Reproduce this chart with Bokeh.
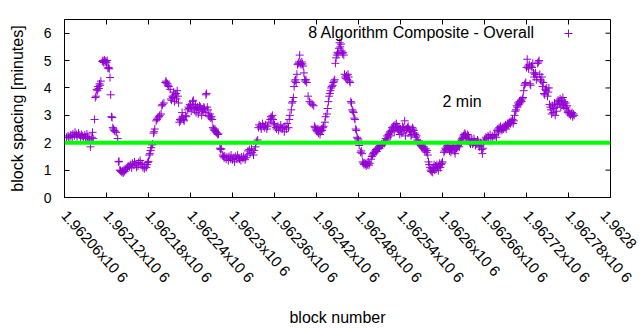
import math
from bokeh.plotting import figure
from bokeh.models import (ColumnDataSource, Span, Label, Legend, LegendItem,
                          FixedTicker, Range1d)
from bokeh.embed import file_html
from bokeh.resources import INLINE

# ---------------- data ----------------
BASE_BLOCK = 1962060

block_offset = [
    3, 5, 6, 8, 9, 11, 12, 14, 15, 17,
    18, 20, 21, 23, 24, 26, 27, 29, 30, 32,
    33, 35, 36, 37, 39, 40, 41, 43, 44, 45,
    46, 47, 48, 49, 50, 51, 52, 54, 55, 56,
    57, 58, 59, 60, 61, 62, 63, 64, 65, 66,
    67, 68, 69, 70, 71, 72, 74, 76, 77, 78,
    79, 80, 81, 82, 83, 84, 85, 86, 87, 88,
    90, 91, 93, 94, 96, 97, 99, 100, 102, 103,
    105, 106, 108, 109, 111, 112, 114, 115, 117, 118,
    119, 120, 121, 122, 123, 124, 125, 126, 127, 128,
    129, 131, 132, 133, 135, 136, 138, 139, 140, 142,
    144, 145, 146, 147, 148, 149, 151, 152, 153, 154,
    155, 156, 157, 158, 159, 160, 161, 162, 163, 164,
    165, 166, 167, 168, 169, 170, 171, 173, 174, 176,
    177, 178, 179, 180, 181, 182, 183, 184, 185, 186,
    187, 188, 189, 190, 191, 192, 193, 194, 195, 196,
    197, 198, 199, 200, 201, 202, 203, 204, 205, 206,
    207, 208, 209, 210, 211, 212, 213, 214, 215, 216,
    217, 218, 219, 220, 222, 223, 224, 226, 227, 228,
    229, 231, 232, 234, 235, 237, 238, 240, 241, 243,
    244, 246, 247, 249, 250, 252, 253, 255, 256, 258,
    259, 261, 262, 264, 265, 267, 268, 270, 271, 273,
    274, 276, 277, 278, 280, 281, 283, 284, 286, 287,
    289, 290, 292, 294, 295, 296, 297, 298, 299, 300,
    302, 303, 305, 306, 308, 309, 311, 312, 314, 315,
    317, 318, 320, 321, 322, 324, 325, 326, 327, 328,
    329, 330, 331, 332, 333, 334, 335, 336, 337, 338,
    339, 340, 341, 342, 343, 344, 345, 346, 348, 350,
    352, 354, 356, 357, 358, 359, 360, 361, 362, 363,
    364, 365, 366, 367, 368, 369, 370, 372, 373, 375,
    376, 377, 378, 379, 380, 381, 382, 383, 384, 385,
    386, 387, 388, 389, 390, 391, 392, 393, 394, 395,
    396, 397, 398, 399, 400, 401, 402, 403, 404, 405,
    406, 407, 408, 409, 410, 411, 412, 413, 414, 415,
    416, 417, 418, 419, 420, 421, 423, 424, 425, 426,
    427, 428, 429, 430, 431, 432, 433, 434, 435, 436,
    438, 439, 440, 441, 442, 443, 444, 445, 446, 447,
    448, 449, 450, 451, 452, 453, 454, 456, 457, 458,
    459, 460, 461, 462, 463, 464, 465, 466, 467, 468,
    469, 470, 471, 472, 473, 474, 475, 476, 477, 478,
    479, 480, 481, 482, 483, 484, 485, 486, 487, 488,
    489, 490, 491, 492, 493, 494, 495, 496, 497, 498,
    499, 500, 501, 502, 503, 504, 505, 506, 507, 508,
    509, 510, 511, 512, 513, 514, 515, 516, 517, 518,
    519, 520, 521, 522, 523, 524, 525, 526, 527, 528,
    529, 530, 531, 532, 533, 534, 535, 536, 537, 538,
    539, 540, 542, 543, 544, 545, 546, 547, 548, 549,
    550, 551, 552, 553, 554, 555, 556, 557, 558, 559,
    560, 561, 562, 563, 564, 565, 566, 567, 568, 569,
    570, 571, 572, 573, 574, 575, 576, 577, 578, 579,
    580, 581, 582, 583, 584, 585, 586, 587, 588, 589,
    590, 591, 592, 593, 594, 595, 596, 597, 598, 599,
    600, 602, 603, 605, 606, 608, 609, 611, 612, 614,
    615, 617, 618, 619, 620, 621, 622, 623, 624, 625,
    626, 627, 628, 629, 630, 631, 632, 633, 634, 635,
    636, 637, 638, 639, 640, 641, 642, 643, 644, 645,
    646, 647, 648, 649, 650, 651, 652, 653, 654, 655,
    656, 657, 658, 659, 660, 661, 662, 663, 664, 665,
    666, 667, 668, 669, 670, 671, 672, 673, 674, 675,
    676, 677, 678, 679, 680, 681, 682, 683, 684, 685,
    686, 687, 688, 689, 690, 691, 692, 693, 694, 695,
    696, 697, 698, 699, 700, 701, 702, 703, 704, 705,
    706, 707, 708, 709, 710, 711, 712, 713, 714, 715,
    716, 717, 718, 719, 720, 721, 722, 723, 724, 725,
    726, 727, 728,
]

spacing_minutes = [
    2.2, 2.25, 2.18, 2.22, 2.28, 2.2, 2.32, 2.25, 2.38, 2.3,
    2.22, 2.35, 2.28, 2.2, 2.3, 2.25, 2.15, 2.28, 2.2, 2.32,
    2.22, 2.15, 2.1, 1.85, 2.2, 2.38, 2.15, 2.85, 3.65, 3.7,
    3.95, 3.9, 4.05, 3.98, 4.15, 4.1, 4.25, 4.97, 5.0, 4.93,
    5.02, 4.95, 4.98, 4.92, 5.0, 4.72, 4.75, 4.7, 4.38, 3.75,
    2.95, 2.92, 2.55, 2.5, 2.45, 2.42, 2.38, 2.15, 1.3, 1.32,
    1.0, 0.98, 0.95, 0.92, 0.97, 0.9, 1.0, 0.95, 1.02, 1.05,
    1.1, 1.15, 1.12, 1.2, 1.08, 1.25, 1.18, 1.3, 1.22, 1.1,
    1.15, 1.28, 1.35, 1.25, 1.2, 1.1, 1.05, 1.12, 1.1, 1.2,
    1.28, 1.32, 1.55, 1.6, 1.72, 1.82, 1.92, 1.95, 2.35, 2.4,
    2.5, 2.8, 2.85, 2.9, 2.95, 3.0, 3.05, 3.35, 3.4, 3.45,
    4.2, 4.25, 4.18, 4.15, 4.1, 4.05, 3.95, 3.6, 3.55, 3.7,
    3.65, 3.85, 3.5, 3.75, 3.8, 3.6, 3.9, 3.7, 3.45, 2.75,
    2.85, 2.8, 2.9, 3.1, 2.95, 2.85, 2.8, 3.0, 2.95, 3.2,
    3.3, 3.25, 3.4, 3.35, 3.15, 3.3, 3.5, 3.55, 3.3, 3.2,
    3.4, 3.1, 3.25, 3.3, 3.05, 3.2, 3.35, 3.3, 3.25, 3.0,
    3.2, 3.15, 3.3, 3.25, 3.1, 3.75, 3.8, 3.3, 3.2, 3.0,
    2.95, 3.05, 2.9, 2.95, 2.85, 2.55, 2.5, 2.45, 2.5, 2.4,
    2.38, 2.35, 2.3, 2.32, 1.8, 1.75, 1.78, 1.55, 1.5, 1.45,
    1.52, 1.4, 1.48, 1.35, 1.5, 1.42, 1.55, 1.38, 1.45, 1.3,
    1.5, 1.42, 1.55, 1.45, 1.4, 1.35, 1.48, 1.42, 1.5, 1.38,
    1.45, 1.55, 1.7, 1.75, 1.6, 1.78, 1.65, 1.55, 1.72, 1.85,
    2.05, 2.1, 2.55, 2.65, 2.6, 2.5, 2.7, 2.6, 2.55, 2.65,
    2.5, 2.6, 2.75, 2.85, 2.95, 2.9, 3.0, 2.85, 2.7, 2.65,
    2.55, 2.5, 2.6, 2.45, 2.55, 2.65, 2.5, 2.55, 2.4, 2.6,
    2.5, 2.7, 2.55, 2.85, 3.0, 3.2, 3.45, 3.5, 3.65, 4.05,
    4.25, 4.3, 4.2, 4.5, 4.85, 4.9, 4.95, 5.2, 4.9, 4.85,
    4.95, 4.88, 4.8, 4.55, 4.3, 4.25, 4.3, 4.2, 3.7, 3.5,
    3.45, 3.4, 3.35, 2.6, 2.55, 2.5, 2.45, 2.4, 2.5, 2.35,
    2.45, 2.3, 2.4, 2.5, 2.45, 2.55, 2.6, 2.75, 2.95, 3.05,
    3.25, 3.5, 3.7, 3.8, 3.9, 4.0, 4.05, 4.1, 4.2, 4.25,
    4.3, 4.9, 5.1, 5.2, 5.3, 5.25, 5.45, 5.65, 5.5, 5.6,
    5.35, 5.25, 5.3, 5.2, 4.5, 4.4, 4.35, 4.45, 4.3, 4.5,
    4.4, 4.25, 4.2, 3.5, 3.45, 3.2, 3.15, 3.1, 2.9, 2.85,
    2.5, 2.45, 2.2, 2.15, 2.1, 1.9, 1.65, 1.7, 1.6, 1.3,
    1.25, 1.2, 1.27, 1.22, 1.15, 1.25, 1.2, 1.3, 1.18, 1.25,
    1.4, 1.5, 1.55, 1.6, 1.65, 1.62, 1.7, 1.75, 1.68, 1.8,
    1.78, 1.85, 1.8, 1.9, 1.88, 1.95, 1.92, 2.0, 1.98, 2.02,
    2.15, 2.1, 2.25, 2.2, 2.3, 2.35, 2.4, 2.25, 2.45, 2.55,
    2.5, 2.6, 2.4, 2.65, 2.55, 2.7, 2.6, 2.5, 2.45, 2.55,
    2.3, 2.5, 2.4, 2.35, 2.6, 2.55, 2.45, 2.8, 2.25, 2.5,
    2.45, 2.55, 2.6, 2.5, 2.45, 2.4, 2.25, 2.3, 2.55, 2.5,
    2.45, 2.35, 2.3, 2.2, 2.25, 2.1, 2.05, 2.0, 1.95, 2.0,
    1.9, 1.85, 1.95, 1.8, 1.85, 1.75, 1.7, 1.78, 1.65, 1.72,
    1.55, 1.3, 1.2, 1.1, 1.0, 0.95, 1.05, 0.92, 1.1, 1.2,
    1.0, 1.15, 1.05, 1.2, 1.1, 0.98, 1.15, 1.25, 1.1, 1.2,
    1.25, 1.3, 1.65, 1.7, 1.8, 1.75, 1.85, 1.9, 1.78, 1.85,
    1.7, 1.8, 1.65, 1.75, 1.82, 1.9, 1.85, 1.7, 1.6, 1.75,
    1.8, 1.85, 1.9, 1.95, 1.85, 2.0, 2.05, 2.1, 2.15, 2.2,
    2.25, 2.3, 2.35, 2.28, 2.2, 2.15, 2.3, 2.25, 2.1, 2.0,
    1.95, 2.05, 2.1, 1.95, 2.0, 2.15, 2.05, 1.9, 2.0, 1.95,
    2.1, 2.05, 1.9, 1.85, 2.0, 1.95, 1.75, 1.6, 1.8, 2.0,
    2.1, 2.2, 2.15, 2.25, 2.2, 2.3, 2.15, 2.25, 2.2, 2.3,
    2.25, 2.2, 2.45, 2.5, 2.4, 2.55, 2.45, 2.6, 2.5, 2.45,
    2.55, 2.5, 2.6, 2.55, 2.65, 2.5, 2.6, 2.7, 2.65, 2.7,
    2.75, 2.7, 2.8, 2.75, 2.85, 2.7, 2.8, 3.0, 3.15, 3.2,
    3.35, 3.3, 3.45, 3.4, 3.5, 3.45, 3.55, 3.5, 3.6, 3.65,
    3.9, 4.1, 4.15, 4.2, 4.75, 5.05, 4.8, 4.7, 4.85, 4.15,
    4.1, 4.8, 4.75, 4.9, 4.55, 4.4, 4.5, 4.55, 4.3, 4.4,
    4.9, 4.95, 5.0, 4.5, 4.3, 4.25, 4.4, 4.05, 4.2, 3.8,
    3.75, 3.95, 3.9, 4.0, 3.7, 3.85, 4.0, 3.4, 3.3, 3.2,
    3.05, 3.35, 3.1, 3.25, 3.45, 3.0, 3.3, 3.15, 3.4, 3.55,
    3.5, 3.45, 3.6, 3.3, 3.55, 3.4, 3.65, 3.35, 3.5, 3.25,
    3.45, 3.3, 3.35, 3.1, 3.15, 3.05, 3.1, 3.0, 3.05, 3.1,
    2.95, 3.05, 3.0,
]

x_ticks = [1962060, 1962120, 1962180, 1962240, 1962300, 1962360, 1962420,
           1962480, 1962540, 1962600, 1962660, 1962720, 1962780, 1962840]
# the last label runs off the page in the reference; only "1.9628" is visible there
x_tick_labels = ["1.96206x10 6", "1.96212x10 6", "1.96218x10 6", "1.96224x10 6",
                 "1.9623x10 6", "1.96236x10 6", "1.96242x10 6", "1.96248x10 6",
                 "1.96254x10 6", "1.9626x10 6", "1.96266x10 6", "1.96272x10 6",
                 "1.96278x10 6", "1.9628"]
y_ticks = [0, 1, 2, 3, 4, 5, 6]
y_max = 6.5

target_minutes = 2
series_name = "8 Algorithm Composite - Overall"
target_text = "2 min"
target_text_pos = (1962600, 3.5)
legend_text_pos = (1962732, 6.02)

# ---------------- figure ----------------
FONT = "Liberation Sans"
PURPLE = "#9400D3"

n = min(len(block_offset), len(spacing_minutes))
src = ColumnDataSource(dict(
    block=[BASE_BLOCK + o for o in block_offset[:n]],
    spacing=spacing_minutes[:n],
))

p = figure(width=640, height=330, output_backend="svg", toolbar_location=None,
           x_range=Range1d(x_ticks[0], x_ticks[-1]), y_range=Range1d(0, y_max),
           min_border_left=64, min_border_right=30, min_border_top=19,
           min_border_bottom=133)
p.xgrid.visible = False
p.ygrid.visible = False
p.outline_line_color = "black"
p.outline_line_alpha = 1
p.outline_line_width = 1
p.background_fill_color = "white"
p.border_fill_color = "white"

p.xaxis.ticker = FixedTicker(ticks=x_ticks)
p.xaxis.major_label_overrides = {t: s for t, s in zip(x_ticks, x_tick_labels)}
p.xaxis.major_label_orientation = -math.radians(48)
p.yaxis.ticker = FixedTicker(ticks=y_ticks)

for ax in (p.xaxis[0], p.yaxis[0]):
    ax.major_tick_in = 5
    ax.major_tick_out = 0
    ax.minor_tick_line_color = None
    ax.axis_line_color = "black"
    ax.major_tick_line_color = "black"
    ax.major_label_text_font = FONT
    ax.major_label_text_color = "black"
    ax.axis_label_text_font = FONT
    ax.axis_label_text_font_size = "16px"
    ax.axis_label_text_font_style = "normal"
    ax.axis_label_text_color = "black"

p.xaxis.major_label_text_font_size = "15px"
p.yaxis.major_label_text_font_size = "14px"
p.xaxis.axis_label = "block number"
p.yaxis.axis_label = "block spacing [minutes]"
p.xaxis.major_label_standoff = 15
p.yaxis.major_label_standoff = 13
p.xaxis.axis_label_standoff = 15
p.yaxis.axis_label_standoff = 15

# mirror ticks on the top and right sides (short inward rays, 5 px)
p.ray(x=x_ticks, y=[y_max] * len(x_ticks), length=5, length_units="screen",
      angle=-math.pi / 2, line_color="black", line_width=1)
p.ray(x=[x_ticks[-1]] * len(y_ticks), y=y_ticks, length=5, length_units="screen",
      angle=math.pi, line_color="black", line_width=1)

r = p.scatter("block", "spacing", source=src, marker="cross", size=8,
              line_color=PURPLE, line_width=1)

p.add_layout(Span(location=target_minutes, dimension="width",
                  line_color="#00FF00", line_width=4))

p.add_layout(Label(x=target_text_pos[0], y=target_text_pos[1], text=target_text,
                   text_font=FONT, text_font_size="16px", text_color="black",
                   text_baseline="middle", text_align="left"))
p.add_layout(Label(x=legend_text_pos[0], y=legend_text_pos[1], text=series_name,
                   text_font=FONT, text_font_size="16px", text_color="black",
                   text_baseline="middle", text_align="right"))

legend = Legend(items=[LegendItem(label=" ", renderers=[r])], location=(494, 154),
                glyph_width=20, glyph_height=20, label_height=20, label_width=0,
                label_standoff=0, padding=0, margin=0, spacing=0,
                border_line_color=None, background_fill_alpha=0,
                label_text_font_size="1px")
p.add_layout(legend)

open("out.html", "w").write(file_html(p, INLINE))
